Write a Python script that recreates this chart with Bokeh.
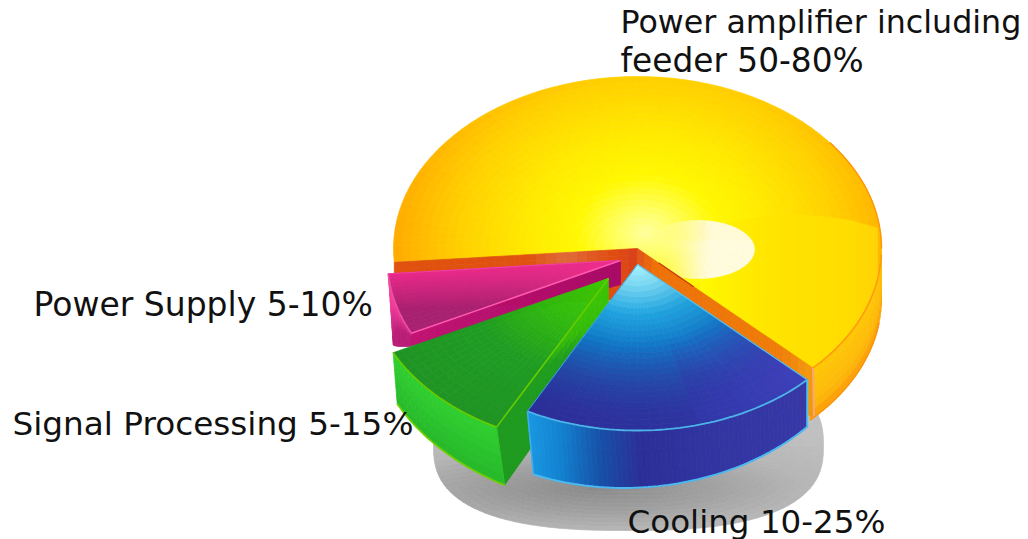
import math

from bokeh.core.properties import value
from bokeh.embed import file_html
from bokeh.models import Range1d
from bokeh.plotting import figure
from bokeh.resources import INLINE

# Slice shares in percent, drawn clockwise from the lower right
categories = ["Cooling", "Signal Processing", "Power Supply", "Power amplifier"]
shares = [20.5, 10, 6, 63.5]
start_angle = 44.0

# Label wording
label_texts = ["Power amplifier including", "feeder 50-80%", "Power Supply 5-10%",
               "Signal Processing 5-15%", "Cooling 10-25%"]

# Label anchors and sizes
label_x = [620, 620, 33, 12, 627]
label_y = [21, 60, 304, 423, 521]
label_px = [31.7, 32.8, 33.0, 32.7, 32.6]

# Running angle limits of each slice
limits = {}
angle = start_angle
for name, share in zip(categories, shares):
    limits[name] = (angle, angle + share * 3.6)
    angle += share * 3.6


def rgb(h):
    h = h.lstrip("#")
    return tuple(int(h[i:i + 2], 16) for i in (0, 2, 4))


def mix(a, b, f):
    f = max(0.0, min(1.0, f))
    return tuple(a[i] + (b[i] - a[i]) * f for i in range(3))


def ramp(stops, v):
    if v <= stops[0][0]:
        return rgb(stops[0][1])
    for (v0, c0), (v1, c1) in zip(stops, stops[1:]):
        if v <= v1:
            return mix(rgb(c0), rgb(c1), (v - v0) / (v1 - v0))
    return rgb(stops[-1][1])


def css(c):
    return "#%02x%02x%02x" % tuple(int(round(x)) for x in c)


p = figure(width=1028, height=539, x_range=Range1d(0, 1028), y_range=Range1d(539, 0),
           x_axis_type=None, y_axis_type=None, toolbar_location=None,
           output_backend="svg", min_border=0, outline_line_color=None,
           background_fill_color="white", border_fill_color="white")
p.grid.visible = False


def paint(cells):
    xs, ys, cs = zip(*cells)
    p.patches(list(xs), list(ys), fill_color=list(cs), line_color=list(cs), line_width=0.7)


def rim(c, rx, ry, t, r=1.0):
    a = math.radians(t)
    return c[0] + rx * r * math.cos(a), c[1] + ry * r * math.sin(a)


def top_face(c, rx, ry, t0, t1, fn, nt, nr):
    """Sector of an ellipse split into small cells, each tinted by fn(x, y, r, t)."""
    cells = []
    for i in range(nt):
        a0, a1 = t0 + (t1 - t0) * i / nt, t0 + (t1 - t0) * (i + 1) / nt
        for j in range(nr):
            r0, r1 = j / nr, (j + 1) / nr
            pts = [rim(c, rx, ry, a0, r0), rim(c, rx, ry, a1, r0),
                   rim(c, rx, ry, a1, r1), rim(c, rx, ry, a0, r1)]
            mx, my = rim(c, rx, ry, (a0 + a1) / 2, (r0 + r1) / 2)
            cells.append(([q[0] for q in pts], [q[1] for q in pts],
                          css(fn(mx, my, (r0 + r1) / 2, (a0 + a1) / 2))))
    return cells


def outer_wall(c, rx, ry, t0, t1, d0, d1, s0, s1, fn, nt, nv=6):
    """Curved side of a slice; depth and sideways lean vary along the arc."""
    cells = []

    def pt(t, v):
        f = (t - t0) / (t1 - t0)
        x, y = rim(c, rx, ry, t)
        return x + (s0 + (s1 - s0) * f) * v, y + (d0 + (d1 - d0) * f) * v

    for i in range(nt):
        a0, a1 = t0 + (t1 - t0) * i / nt, t0 + (t1 - t0) * (i + 1) / nt
        for j in range(nv):
            v0, v1 = j / nv, (j + 1) / nv
            pts = [pt(a0, v0), pt(a1, v0), pt(a1, v1), pt(a0, v1)]
            mx, my = pt((a0 + a1) / 2, (v0 + v1) / 2)
            cells.append(([q[0] for q in pts], [q[1] for q in pts],
                          css(fn(mx, my, (v0 + v1) / 2, (a0 + a1) / 2))))
    return cells


def cut_wall(a, b, b2, a2, fn, ns=24, nv=8):
    """Flat cut face from slice tip a to rim b, with lower edge a2 to b2."""
    cells = []

    def pt(s, v):
        tx, ty = a[0] + (b[0] - a[0]) * s, a[1] + (b[1] - a[1]) * s
        ux, uy = a2[0] + (b2[0] - a2[0]) * s, a2[1] + (b2[1] - a2[1]) * s
        return tx + (ux - tx) * v, ty + (uy - ty) * v

    for i in range(ns):
        s0, s1 = i / ns, (i + 1) / ns
        for j in range(nv):
            v0, v1 = j / nv, (j + 1) / nv
            pts = [pt(s0, v0), pt(s1, v0), pt(s1, v1), pt(s0, v1)]
            cells.append(([q[0] for q in pts], [q[1] for q in pts],
                          css(fn((s0 + s1) / 2, (v0 + v1) / 2))))
    return cells


def arc_line(c, rx, ry, t0, t1, color, width, depth=None, lean=(0, 0)):
    ts = [t0 + (t1 - t0) * i / 60 for i in range(61)]
    xs, ys = [], []
    for i, t in enumerate(ts):
        x, y = rim(c, rx, ry, t)
        if depth:
            f = i / 60
            x += lean[0] + (lean[1] - lean[0]) * f
            y += depth[0] + (depth[1] - depth[0]) * f
        xs.append(x)
        ys.append(y)
    p.line(xs, ys, line_color=color, line_width=width)


def edge(a, b, color, width):
    p.line([a[0], b[0]], [a[1], b[1]], line_color=color, line_width=width)


# Soft shadow on the ground, a squared-off ellipse
SH = (628, 445)


def shadow_cell_colour(x, y):
    d = math.hypot((x - 590) / 215, (y - 488) / 42)
    return ramp([(0, "#8a8a8a"), (0.55, "#a0a0a0"), (1.0, "#b6b6b6"), (1.6, "#c0c0c0")], d)


def shadow_point(t, r):
    ca, sa = math.cos(math.radians(t)), math.sin(math.radians(t))
    return (SH[0] + 195 * r * math.copysign(abs(ca) ** 0.77, ca),
            SH[1] + 85 * r * math.copysign(abs(sa) ** 0.77, sa))


cells = []
for i in range(120):
    a0, a1 = 3 * i, 3 * (i + 1)
    for j in range(22):
        r0, r1 = j / 22, (j + 1) / 22
        pts = [shadow_point(a0, r0), shadow_point(a1, r0),
               shadow_point(a1, r1), shadow_point(a0, r1)]
        mx, my = shadow_point((a0 + a1) / 2, (r0 + r1) / 2)
        cells.append(([q[0] for q in pts], [q[1] for q in pts], css(shadow_cell_colour(mx, my))))
paint(cells)

# Power amplifier slice: the large yellow piece at the back
YC, YRX, YRY, YD = (637, 248), 244, 172, 50
y_t0, y_t1 = limits["Power amplifier"]


def yellow(x, y, r=0, t=0):
    d = math.hypot((x - 646) / 250, (y - 232) / 205)
    return ramp([(0, "#ffffa0"), (0.1, "#ffff68"), (0.28, "#fff800"), (0.5, "#ffe800"),
                 (0.75, "#ffd000"), (1.0, "#ffac00")], d)


# Side of the yellow piece, visible at the right
paint(outer_wall(YC, YRX, YRY, 0, 45, YD, YD, 0, 0,
                 lambda x, y, v, t: ramp([(0, "#ffc808"), (0.7, "#fdb90a"), (1, "#fb9a0a")], v),
                 20, 6))

paint(top_face(YC, YRX, YRY, y_t0, y_t1, yellow, 80, 28))

yrim0 = rim(YC, YRX, YRY, y_t0)
yrim1 = rim(YC, YRX, YRY, y_t1)


# Glossy band on the lower right of the yellow top
def gloss_top(x):
    knots = [(690, 245), (720, 224), (780, 213), (820, 216), (850, 220), (882, 229)]
    for (x0, y0), (x1, y1) in zip(knots, knots[1:]):
        if x <= x1:
            return y0 + (y1 - y0) * (x - x0) / (x1 - x0)
    return knots[-1][1]


def gloss_bottom(x):
    line = YC[1] + (yrim1[1] - YC[1]) * (x - YC[0]) / (yrim1[0] - YC[0])
    u = min(1.0, abs(x - YC[0]) / YRX)
    return min(line, YC[1] + YRY * math.sqrt(max(0.0, 1 - u * u)))


cells = []
x = 700
while x < 877:
    x2 = x + 3
    top0, top1, bot0, bot1 = gloss_top(x), gloss_top(x2), gloss_bottom(x), gloss_bottom(x2)
    f = min(1.0, (x - 700) / 80)
    tint = ramp([(700, "#fff000"), (790, "#ffe200"), (850, "#ffdc00"), (882, "#ffd208")], x)
    mid = yellow(x, (top0 + bot0) / 2)
    cells.append(([x, x2, x2, x], [top0, top1, bot1, bot0], css(mix(mid, tint, f))))
    x = x2
paint(cells)

# Highlight spot on the yellow top
HL = (698, 249)


def highlight(x, y, r, t):
    a = min(1.0, max(0.0, (x - 648) / 65)) * (0.9 + 0.1 * (y > 240))
    return mix(yellow(x, y) if x < 700 else (255, 235, 0), rgb("#fffbe0"), a * a * (3 - 2 * a))


paint(top_face(HL, 56, 29, 0, 360, highlight, 40, 10))

# Cut faces of the yellow piece sit over the lower edge of the highlight
paint(cut_wall(YC, yrim0, (yrim0[0], yrim0[1] + YD), (YC[0], YC[1] + YD),
               lambda s, v: ramp([(0, "#d8401a"), (0.1, "#e04c10"), (0.3, "#e06a3a"),
                                  (0.45, "#e0520f"), (1, "#e0500e")], s)))
paint(cut_wall(YC, yrim1, (yrim1[0], yrim1[1] + YD), (YC[0], YC[1] + YD),
               lambda s, v: ramp([(0, "#e0501a"), (0.1, "#ee7008"), (0.8, "#ee7c08"),
                                  (1, "#f49a10")], s)))
edge(yrim1, (yrim1[0] + 1, yrim1[1] + YD), "#f6a878", 2)
edge((YC[0] + (yrim1[0] - YC[0]) * 0.12, YC[1] + (yrim1[1] - YC[1]) * 0.12),
     (YC[0] + (yrim1[0] - YC[0]) * 0.32, YC[1] + (yrim1[1] - YC[1]) * 0.32), "#c83a10", 1.2)

# Rim lines of the yellow piece
arc_line(YC, YRX, YRY, 2, y_t1 - 360, "#ff9a10", 1.6)
arc_line(YC, YRX, YRY, -38, 0, "#ff9408", 1.4)
arc_line(YC, YRX, YRY, 8, 45, "#fb9208", 1.4, depth=(YD, YD))

# Power Supply slice
PC, PRX, PRY = (620, 260), 233, 165
pt0, pt1 = limits["Power Supply"]
prim0 = rim(PC, PRX, PRY, pt0)
prim1 = rim(PC, PRX, PRY, pt1)
paint(cut_wall(PC, prim0, (prim0[0] - 1, prim0[1] + 13), (PC[0], PC[1] + 24),
               lambda s, v: mix(rgb("#a80a68"), rgb("#c01070"), s)))
paint(outer_wall(PC, PRX, PRY, pt0, pt1, 13, 71, -1, 5,
                 lambda x, y, v, t: ramp([(0, "#f650a8"), (0.5, "#ee3a9a"), (1, "#b81c74")],
                                         v + (pt1 - t) / 30), 14, 8))


def pink_top(x, y, r, t):
    lower = (pt1 - t) / (pt1 - pt0)
    return mix(ramp([(0, "#e8288a"), (1, "#f03090")], lower * 0.4 + (1 - r) * 0.4),
               rgb("#a82070"), max(0.0, r * 1.5 - 0.2) * lower * 1.3)


paint(top_face(PC, PRX, PRY, pt0, pt1, pink_top, 14, 26))
edge(prim0, PC, "#ff58ac", 1.6)
arc_line(PC, PRX, PRY, pt0, pt1, "#f050a4", 1.6)
edge(prim1, PC, "#f040a0", 1.2)

# Signal Processing slice
GC, GRX, GRY = (608, 278), 240, 168
gt0, gt1 = limits["Signal Processing"]
grim0 = rim(GC, GRX, GRY, gt0)
paint(cut_wall(GC, grim0, (grim0[0] + 8, grim0[1] + 58), (GC[0], GC[1] + 60),
               lambda s, v: ramp([(0, "#3cc805"), (0.45, "#34bc08"), (0.62, "#1f9e1e"),
                                  (1, "#1e9a1e")], s + v * 0.75)))
paint(outer_wall(GC, GRX, GRY, gt0, gt1, 58, 51, 8, 4,
                 lambda x, y, v, t: ramp([(0, "#30d030"), (1, "#26b82a")], v), 20, 6))


def green_top(x, y, r, t):
    return ramp([(0, "#3ccc00"), (0.3, "#30ba0c"), (0.6, "#1f9c22"), (1, "#1f9424")], r)


paint(top_face(GC, GRX, GRY, gt0, gt1, green_top, 16, 26))
arc_line(GC, GRX, GRY, gt0, gt1, "#66cc00", 1.8)
edge(grim0, GC, "#66cc00", 1.6)
edge(grim0, (grim0[0] + 8, grim0[1] + 58), "#2fc02a", 1.0)
arc_line(GC, GRX, GRY, gt0, gt1, "#70d000", 1.8, depth=(58, 51), lean=(8, 4))

# Cooling slice, in front of its neighbours
BC, BRX, BRY = (637, 264), 236, 166
bt0, bt1 = limits["Cooling"]
brim0 = rim(BC, BRX, BRY, bt0)
brim1 = rim(BC, BRX, BRY, bt1)


def blue_wall(x, y, v, t):
    return ramp([(527, "#1a98e4"), (560, "#1282d0"), (600, "#1650a8"), (640, "#2c2e98"),
                 (700, "#3034a0"), (810, "#3838a8")], x)


paint(outer_wall(BC, BRX, BRY, bt0, bt1, 47, 63, 0, 6, blue_wall, 60, 3))


def blue_top(x, y, r, t):
    base = ramp([(0, "#a8f2ff"), (0.12, "#7cdcf8"), (0.3, "#20a4e0"), (0.5, "#1078c8"),
                 (0.72, "#2050ac"), (0.9, "#2c34a0"), (1, "#2c2e98")], r)
    right = ramp([(bt0, "#3c40bc"), (bt0 + 40, "#2c34a0"), (bt1, "#2c2c98")], t)
    return mix(base, right, max(0.0, (r - 0.45) / 0.4) * (0.9 if t < bt0 + 30 else 0.5))


paint(top_face(BC, BRX, BRY, bt0, bt1, blue_top, 24, 30))
arc_line(BC, BRX, BRY, bt0, bt1, "#4cb4e8", 1.8)
edge(brim0, BC, "#58c0ec", 1.2)
edge(brim1, BC, "#3aa8e4", 1.0)
edge(brim0, (brim0[0], brim0[1] + 47), "#50c4f0", 2)
edge(brim1, (brim1[0] + 6, brim1[1] + 63), "#40b0ec", 1.5)
arc_line(BC, BRX, BRY, bt0, bt1, "#4cb8f0", 2, depth=(47, 63), lean=(0, 6))

# Category labels
for tx, lx, ly, px in zip(label_texts, label_x, label_y, label_px):
    p.text([lx], [ly], text=[tx], text_font=value("DejaVu Sans"),
           text_font_size=f"{px}px", text_color="#111111", text_align="left",
           text_baseline="alphabetic")

open("out.html", "w").write(file_html(p, INLINE))
